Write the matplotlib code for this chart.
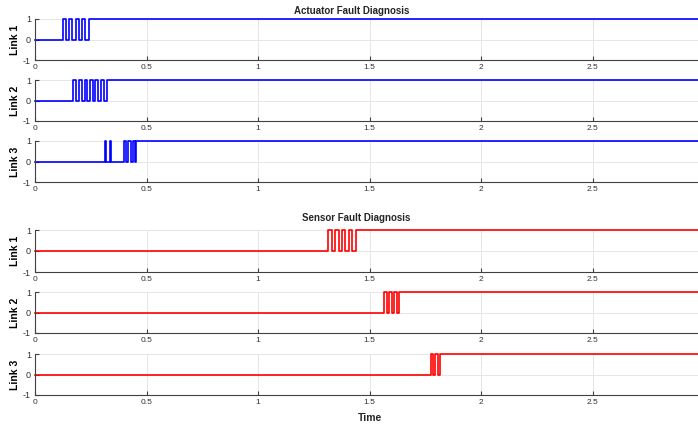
import numpy as np
import matplotlib.pyplot as plt

plt.rcParams['font.family'] = ['Liberation Sans', 'DejaVu Sans']
plt.rcParams['axes.unicode_minus'] = False

# switching times (s); signal levels alternate 1/0 after each switch
act_link1 = [0.124, 0.139, 0.152, 0.167, 0.184, 0.196, 0.210, 0.225, 0.242]
act_link2 = [0.172, 0.184, 0.197, 0.209, 0.222, 0.234, 0.246, 0.259, 0.271, 0.284, 0.296, 0.309, 0.321]
act_link3 = [0.313, 0.320, 0.336, 0.343, 0.399, 0.409, 0.419, 0.429, 0.439, 0.447, 0.451]
sen_link1 = [1.315, 1.330, 1.346, 1.361, 1.377, 1.392, 1.408, 1.423, 1.439]
sen_link2 = [1.567, 1.577, 1.588, 1.600, 1.611, 1.622, 1.634]
sen_link3 = [1.774, 1.784, 1.795, 1.806, 1.816]

xticks = [0, 0.5, 1, 1.5, 2, 2.5]
xticklabels = ['0', '0.5', '1', '1.5', '2', '2.5']
yticks = [-1, 0, 1]
t_end = 3.0

W, H = 698, 425
fig = plt.figure(figsize=(W / 100, H / 100), dpi=100)

# (top, bottom) in pixels for each panel
panels = [
    (act_link1, 'Link 1', 19, 60, 'blue'),
    (act_link2, 'Link 2', 80, 121, 'blue'),
    (act_link3, 'Link 3', 141, 182, 'blue'),
    (sen_link1, 'Link 1', 230, 272, 'red'),
    (sen_link2, 'Link 2', 292, 333, 'red'),
    (sen_link3, 'Link 3', 354, 395, 'red'),
]

axc = '0.25'
for switches, name, top, bot, col in panels:
    ax = fig.add_axes([35 / W, 1 - bot / H, (W - 35) / W, (bot - top) / H])
    t = np.concatenate([[0.0], switches, [t_end]])
    lv = [0] + [1 - (i % 2) for i in range(len(switches))]
    lv = lv + [lv[-1]]
    ax.step(t, lv, where='post', color=col, lw=1.2, clip_on=False)
    ax.set_xlim(0, 2.973)
    ax.set_ylim(-1, 1)
    ax.set_xticks(xticks)
    ax.set_xticklabels(xticklabels)
    ax.set_yticks(yticks)
    ax.grid(True, color='0.9', lw=0.7)
    ax.set_axisbelow(True)
    for s in ['top', 'right']:
        ax.spines[s].set_visible(False)
    for s in ['left', 'bottom']:
        ax.spines[s].set_color(axc)
        ax.spines[s].set_linewidth(0.8)
    ax.tick_params(direction='in', length=3, width=0.8, color=axc,
                   labelsize=6, labelcolor='0.2', pad=3)
    ax.tick_params(axis='y', labelsize=6.5)
    ax.set_ylabel(name, fontsize=7.5, fontweight='bold', labelpad=2)

fig.text(352 / W, 1 - 11 / H, 'Actuator Fault Diagnosis', ha='center', va='center',
         fontsize=7, fontweight='bold', color='0.15')
fig.text(356 / W, 1 - 218 / H, 'Sensor Fault Diagnosis', ha='center', va='center',
         fontsize=7, fontweight='bold', color='0.15')
fig.text(370 / W, 1 - 418 / H, 'Time', ha='center', va='center',
         fontsize=7.5, fontweight='bold', color='0.15')

fig.savefig('out.png', dpi=100)
